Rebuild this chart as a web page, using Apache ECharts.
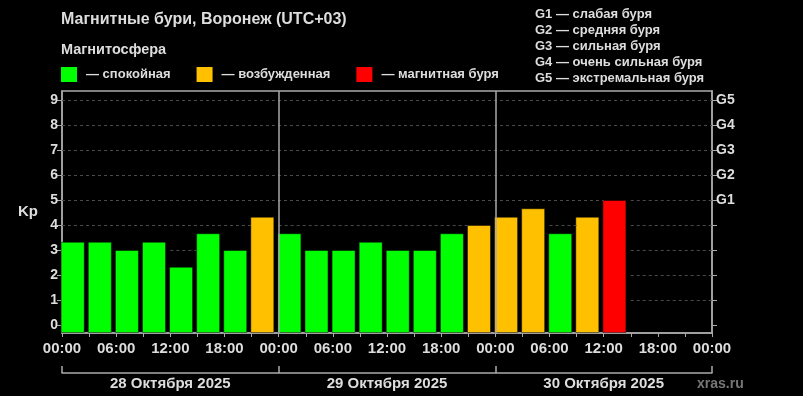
<!DOCTYPE html>
<html><head><meta charset="utf-8">
<script src="https://cdn.jsdelivr.net/npm/echarts@6/dist/echarts.min.js"></script>
<style>html,body{margin:0;padding:0;background:#000;}#c{width:803px;height:396px;}</style>
</head><body><div id="c"></div>
<script>
const titleText = 'Магнитные бури, Воронеж (UTC+03)';
const subtitleText = 'Магнитосфера';
const legendNames = ['— спокойная', '— возбужденная', '— магнитная буря'];
const legendColors = ['#00ff00', '#ffc000', '#ff0000'];
const stormScale = ['G1 — слабая буря', 'G2 — средняя буря', 'G3 — сильная буря', 'G4 — очень сильная буря', 'G5 — экстремальная буря'];
const days = ['28 Октября 2025', '29 Октября 2025', '30 Октября 2025'];
const slotStartHours = [0, 3, 6, 9, 12, 15, 18, 21, 24, 27, 30, 33, 36, 39, 42, 45, 48, 51, 54, 57, 60];
const kpValues = [3.33, 3.33, 3.00, 3.33, 2.33, 3.67, 3.00, 4.33,
                  3.67, 3.00, 3.00, 3.33, 3.00, 3.00, 3.67, 4.00,
                  4.33, 4.67, 3.67, 4.33, 5.00];
const kpTicks = [0, 1, 2, 3, 4, 5, 6, 7, 8, 9];
const gLevels = [5, 6, 7, 8, 9];
const gLabels = ['G1', 'G2', 'G3', 'G4', 'G5'];
const hourTicks = [0, 3, 6, 9, 12, 15, 18, 21, 24, 27, 30, 33, 36, 39, 42, 45, 48, 51, 54, 57, 60, 63, 66, 69, 72];
const hourLabels = [0, 6, 12, 18, 24, 30, 36, 42, 48, 54, 60, 66, 72];
const dayBounds = [0, 24, 48, 72];
const dayCenters = [12, 36, 60];
const daySeparators = [24, 48];
const siteText = 'xras.ru';

const FONT = '"Liberation Sans", Arial, sans-serif';
const TXT = '#dddddd';
const AX = '#aaaaaa';

function kpColor(v) { return v >= 5 ? legendColors[2] : (v >= 4 ? legendColors[1] : legendColors[0]); }

const chart = echarts.init(document.getElementById('c'), null, {renderer: 'canvas'});
const barData = kpValues.map((v, i) => ({
  value: [slotStartHours[i] + 1.5, v],
  itemStyle: {color: kpColor(v)}
}));

// dashed grid lines, only where no bar covers them (in data space)
const gridSegments = [];
kpTicks.filter(k => k > 0).forEach(k => {
  let start = null;
  for (let i = 0; i < hourTicks.length - 1; i++) {
    const h = hourTicks[i];
    const idx = slotStartHours.indexOf(h);
    const free = idx < 0 || kpValues[idx] < k;
    if (free && start === null) start = h;
    if (!free && start !== null) { gridSegments.push([{coord: [start, k]}, {coord: [h, k]}]); start = null; }
  }
  if (start !== null) gridSegments.push([{coord: [start, k]}, {coord: [hourTicks[hourTicks.length - 1], k]}]);
});

const yCommon = {type: 'value', min: -0.32, max: 9.36, startValue: -0.32,
  splitLine: {show: false},
  axisLine: {show: true, onZero: false, lineStyle: {color: AX, width: 1.5}}};

chart.setOption({
  backgroundColor: '#000',
  animation: false,
  textStyle: {fontFamily: FONT},
  title: [
    {text: titleText, left: 61, top: 12, padding: 0, textStyle: {color: TXT, fontSize: 16, fontWeight: 'bold', fontFamily: FONT}},
    {text: subtitleText, left: 61, top: 42, padding: 0, textStyle: {color: TXT, fontSize: 14.5, fontWeight: 'bold', fontFamily: FONT}},
    {text: stormScale.join('\n'), left: 535, top: 6, padding: 0, textStyle: {color: TXT, fontSize: 13, fontWeight: 'bold', lineHeight: 16, fontFamily: FONT}},
    {text: siteText, left: 697, top: 377, padding: 0, textStyle: {color: '#777', fontSize: 14, fontWeight: 'bold', fontFamily: FONT}}
  ],
  legend: {
    left: 61, top: 67, padding: 0, itemWidth: 16, itemHeight: 15, itemGap: 26,
    icon: 'rect', selectedMode: false,
    data: legendNames,
    textStyle: {color: TXT, fontSize: 13, fontWeight: 'bold', fontFamily: FONT, padding: [0, 0, 0, 4]}
  },
  grid: {left: 62, right: 91, top: 91, bottom: 63, show: true, borderColor: AX, borderWidth: 1.5, outerBoundsMode: 'none', containLabel: false},
  xAxis: [
    {type: 'value', min: 0, max: 72, position: 'bottom',
     splitLine: {show: false},
     axisLine: {show: true, onZero: false, lineStyle: {color: AX, width: 1.5}},
     axisTick: {show: true, customValues: hourTicks, length: 4, lineStyle: {color: AX}},
     axisLabel: {customValues: hourLabels, color: TXT, fontSize: 15, fontWeight: 'bold', margin: 8, fontFamily: FONT,
       formatter: v => String(v % 24).padStart(2, '0') + ':00'}},
    {type: 'value', min: 0, max: 72, position: 'bottom', offset: 40,
     splitLine: {show: false},
     axisLine: {show: true, onZero: false, lineStyle: {color: AX, width: 1.5}},
     axisTick: {show: true, inside: true, customValues: dayBounds, length: 7, lineStyle: {color: AX, width: 1.5}},
     axisLabel: {customValues: dayCenters, color: TXT, fontSize: 15, fontWeight: 'bold', margin: 3, fontFamily: FONT,
       formatter: v => days[dayCenters.indexOf(v)]}}
  ],
  yAxis: [
    Object.assign({}, yCommon, {position: 'left',
      name: 'Kp', nameLocation: 'middle', nameRotate: 0, nameGap: 24,
      nameTextStyle: {color: TXT, fontSize: 15, fontWeight: 'bold', fontFamily: FONT},
      axisTick: {show: true, customValues: kpTicks, length: 5, lineStyle: {color: AX}},
      axisLabel: {customValues: kpTicks, color: TXT, fontSize: 14, fontWeight: 'bold', margin: 4, fontFamily: FONT}}),
    Object.assign({}, yCommon, {position: 'right',
      axisTick: {show: true, customValues: kpTicks, length: 5, lineStyle: {color: AX}},
      axisLabel: {customValues: gLevels, color: TXT, fontSize: 14, fontWeight: 'bold', margin: 4, fontFamily: FONT,
        formatter: v => gLabels[gLevels.indexOf(v)]}})
  ],
  series: [
    {type: 'line', data: [], silent: true,
     markLine: {symbol: 'none', silent: true, label: {show: false}, animation: false,
       lineStyle: {color: '#4a4a4a', type: [3, 3], width: 1},
       data: gridSegments}},
    {type: 'bar', name: 'Kp', data: barData, barWidth: 24,
     itemStyle: {borderColor: 'rgba(0,0,0,0.45)', borderWidth: 1}},
    {type: 'line', data: [], silent: true,
     markLine: {symbol: 'none', silent: true, label: {show: false}, animation: false,
       lineStyle: {color: AX, type: 'solid', width: 1.5},
       data: daySeparators.map(v => ({xAxis: v}))}},
    ...legendNames.map((n, i) => ({type: 'bar', name: n, data: [], itemStyle: {color: legendColors[i]}}))
  ]
});
</script></body></html>
